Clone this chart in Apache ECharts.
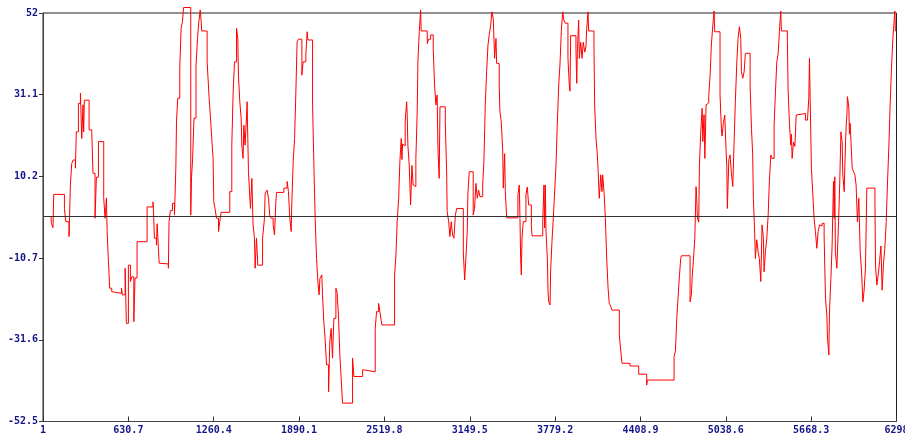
<!DOCTYPE html>
<html lang="en">
<head>
  <meta charset="UTF-8">
  <script src="https://cdn.jsdelivr.net/npm/echarts@6/dist/echarts.min.js"></script>
  <title>signal trace</title>
  <style>
    html, body { margin: 0; padding: 0; background: #fff; }
  </style>
</head>
<body>
<div id="chart" style="width: 905px; height: 436px;"></div>
<script type="text/javascript">
  // sample index where the value changes, and the value from there on
  const sampleIdx = [
    60, 63, 75, 80, 159, 169, 193, 203, 213, 223, 240, 247, 262, 277, 287, 296, 301, 306, 341, 361,
    370, 385, 395, 410, 449, 459, 469, 474, 484, 493, 508, 518, 580, 587, 607, 616, 631, 646, 656, 671,
    680, 695, 769, 813, 818, 823, 838, 843, 853, 858, 867, 926, 931, 941, 956, 971, 981, 986, 995, 1010,
    1020, 1030, 1038, 1091, 1097, 1105, 1115, 1130, 1141, 1151, 1161, 1168, 1172, 1212, 1226, 1237, 1246, 1256, 1261, 1270,
    1281, 1296, 1305, 1315, 1379, 1394, 1404, 1414, 1429, 1438, 1443, 1453, 1463, 1468, 1477, 1483, 1492, 1503, 1507, 1512,
    1517, 1527, 1532, 1542, 1551, 1561, 1566, 1576, 1586, 1621, 1635, 1640, 1654, 1665, 1674, 1684, 1699, 1709, 1719, 1724,
    1778, 1802, 1812, 1822, 1832, 1837, 1847, 1857, 1866, 1876, 1886, 1911, 1920, 1940, 1950, 1955, 1990, 1999, 2009, 2019,
    2029, 2038, 2044, 2058, 2063, 2073, 2082, 2093, 2108, 2117, 2127, 2137, 2147, 2162, 2171, 2181, 2191, 2201, 2211, 2285,
    2295, 2359, 2374, 2452, 2462, 2477, 2487, 2501, 2595, 2605, 2614, 2625, 2634, 2644, 2649, 2654, 2664, 2673, 2684, 2688,
    2693, 2703, 2713, 2723, 2732, 2742, 2752, 2762, 2767, 2777, 2787, 2791, 2836, 2846, 2861, 2880, 2890, 2900, 2909, 2915,
    2924, 2930, 2969, 2979, 2983, 2994, 3003, 3013, 3023, 3033, 3043, 3053, 3102, 3112, 3121, 3131, 3136, 3146, 3175, 3185,
    3195, 3205, 3215, 3225, 3245, 3254, 3264, 3274, 3284, 3293, 3304, 3313, 3323, 3333, 3343, 3348, 3367, 3372, 3382, 3393,
    3397, 3407, 3412, 3422, 3505, 3515, 3520, 3525, 3530, 3535, 3544, 3564, 3574, 3584, 3604, 3609, 3688, 3697, 3702, 3707,
    3712, 3722, 3727, 3732, 3742, 3746, 3756, 3766, 3776, 3786, 3795, 3806, 3815, 3825, 3835, 3845, 3854, 3874, 3884, 3889,
    3894, 3933, 3939, 3943, 3953, 3958, 3968, 3978, 3987, 3998, 4007, 4012, 4022, 4027, 4066, 4071, 4081, 4091, 4096, 4105,
    4116, 4125, 4130, 4140, 4150, 4160, 4170, 4179, 4190, 4199, 4253, 4263, 4273, 4332, 4396, 4455, 4460, 4657, 4667, 4677,
    4686, 4696, 4706, 4711, 4775, 4785, 4790, 4799, 4810, 4819, 4824, 4829, 4839, 4844, 4854, 4864, 4869, 4878, 4884, 4893,
    4903, 4913, 4923, 4932, 4943, 4952, 4957, 4996, 5006, 5011, 5021, 5031, 5041, 5046, 5050, 5061, 5070, 5080, 5090, 5100,
    5109, 5120, 5129, 5139, 5149, 5154, 5164, 5174, 5183, 5218, 5228, 5237, 5242, 5252, 5257, 5267, 5277, 5286, 5297, 5306,
    5316, 5321, 5331, 5341, 5351, 5360, 5371, 5380, 5395, 5405, 5415, 5425, 5434, 5444, 5449, 5493, 5498, 5508, 5518, 5523,
    5528, 5538, 5548, 5558, 5563, 5626, 5641, 5651, 5656, 5661, 5670, 5681, 5690, 5700, 5710, 5720, 5730, 5740, 5749, 5764,
    5774, 5784, 5789, 5799, 5803, 5814, 5823, 5833, 5838, 5843, 5847, 5858, 5868, 5877, 5888, 5897, 5902, 5912, 5922, 5927,
    5932, 5936, 5946, 5951, 5956, 5961, 5971, 5980, 5991, 6000, 6010, 6020, 6030, 6040, 6050, 6059, 6069, 6079, 6139, 6143,
    6153, 6163, 6173, 6183, 6192, 6202, 6212, 6222, 6231, 6242, 6251, 6261, 6271, 6281, 6286, 6290, 6298
  ];
  const signal = [
    0, -1.8, -2.9, 5.6, 2.0, -1.4, -5.2, 8.0, 13.5, 14.4, 12.3, 21.6, 28.9, 31.5, 19.9, 28.5, 21.6, 29.7, 22.1, 21.2,
    11.0, -0.5, 10, 19.1, 4.6, -0.5, 4.7, -3.9, -11.6, -18.4, -19.3, -19.7, -18.4, -20.1, -13.3, -27.4, -12.5, -16.7, -15.5, -27.0,
    -15.8, -6.5, 2.4, 3.7, -0.5, -5.6, -7.4, -1.9, -8.6, -12.0, -12.2, -13.3, -1.4, 1.5, 3.3, 0.3, 12.3, 24.2, 30.2, 37.9,
    48.1, 49.8, 53.4, 0.3, 10.1, 14.8, 25.1, 38.7, 45.5, 49.8, 52.8, 49.8, 47.4, 39.5, 30.6, 25.1, 19.9, 14.8, 3.7, 2.0,
    -0.5, -3.9, -1.4, 1.0, 6.3, 18.2, 31.9, 39.5, 48.1, 45.5, 36.1, 29.3, 25.1, 18.2, 14.8, 23.3, 18.2, 25.9, 29.3, 19.9,
    11.4, 4.6, 2.0, 9.7, -2.2, -5.6, -13.3, -5.6, -12.5, -5.6, -0.5, 5.9, 6.7, 4.6, 0.2, -0.5, -2.2, -4.8, 3.7, 6.1,
    7.2, 8.9, 6.3, -0.5, -3.9, 3.7, 14.0, 19.9, 31.0, 44.7, 45.3, 36.1, 39.5, 41.3, 47.2, 45.1, 28.5, 14.0, -0.5, -10.8,
    -16.7, -20.1, -15.9, -15.0, -20.0, -27.0, -31.2, -38.0, -44.9, -32.1, -28.7, -36.3, -26.1, -18.4, -19.5, -25.5, -35.5, -41.5, -47.8, -36.3,
    -41.0, -39.3, -39.8, -28.7, -24.4, -22.3, -24.6, -27.8, -15.0, -9.9, -1.4, 4.6, 14.0, 19.9, 14.5, 18.5, 18.0, 24.2, 29.3, 26.0,
    18.2, 13.1, 2.9, 13.0, 8.0, 7.6, 14.8, 26.8, 39.5, 47.2, 52.8, 47.4, 44.2, 45.3, 46.4, 43.0, 33.6, 28.5, 31.0, 17.4,
    9.7, 28.0, 24.2, 11.4, 1.2, -1.4, -5.2, -1.4, -4.8, -5.6, 0.2, 2.0, -9.1, -16.3, -10.8, -3.9, 5.9, 11.4, 0.3, 2.0,
    8.4, 4.6, 6.7, 5.0, 8.0, 14.0, 28.5, 37.0, 43.8, 46.4, 48.9, 52.3, 50.6, 40.4, 45.5, 39.1, 33.6, 26.8, 24.2, 16.5,
    7.2, 16.0, 6.3, -0.4, 5.5, 8.0, -0.5, -10.8, -15.0, -5.6, -1.4, 5.5, 7.5, 2.9, -2.2, -5.0, -1.4, 8.0, -3.0, 8.0,
    -3.9, -10.8, -19.3, -21.9, -22.7, -14.2, -6.5, -0.5, 6.3, 13.1, 23.3, 33.6, 38.7, 47.2, 52.3, 50.0, 49.4, 40.4, 33.6, 32.0,
    46.2, 43.0, 34.0, 42.0, 50.2, 40.4, 44.5, 40.4, 44.5, 42.0, 43.5, 47.7, 52.3, 47.4, 43.8, 28.5, 19.9, 15.7, 12.3, 4.6,
    10.6, 6.3, 10.6, 6.3, -0.5, -10.8, -18.4, -22.3, -23.0, -24.0, -30.4, -34.2, -37.6, -38.3, -40.4, -43.2, -41.9, -35.9, -34.5, -26.1,
    -21.0, -15.5, -10.8, -10.1, -21.9, -20.0, -15.9, -11.6, -5.6, 7.6, 4.6, -0.5, -1.5, 13.1, 21.6, 27.6, 19.1, 26.0, 14.8, 28.5,
    29.0, 31.0, 36.1, 43.8, 48.9, 52.5, 47.2, 31.0, 22.5, 20.5, 24.0, 25.9, 16.5, 13.0, 2.0, 14.5, 15.7, 11.0, 7.6, 19.1,
    29.3, 39.5, 45.5, 48.5, 45.5, 37.0, 35.3, 37.0, 41.7, 33.6, 22.5, 15.7, 4.6, -4.8, -10.8, -6.0, -9.1, -10.8, -16.7, -2.2,
    -5.6, -14.2, -9.1, -5.6, 0.2, 8.9, 15.7, 14.8, 23.3, 31.9, 39.5, 41.7, 47.2, 52.5, 47.4, 45.0, 32.7, 23.8, 18.2, 21.0,
    14.8, 19.0, 17.9, 25.9, 26.3, 24.6, 25.0, 30.2, 40.4, 30.0, 12.3, 5.4, -0.5, -3.9, -8.2, -3.9, -2.2, -2.5, -1.8, -5.0,
    -21.0, -25.3, -31.2, -35.5, -25.0, -15.9, -7.4, 8.9, -0.5, 10.1, -9.1, -13.3, -3.9, 5.5, 21.6, 19.0, 10.6, 6.3, 19.1, 23.0,
    25.9, 30.6, 28.0, 21.0, 23.8, 20.0, 12.3, 11.5, 10.6, 8.0, -1.4, 4.6, -9.1, -14.0, -21.9, -19.0, -13.3, 7.2, 3.7, -12.5,
    -17.6, -15.0, -11.6, -7.6, -18.9, -12.0, -8.2, -1.4, 8.0, 18.2, 28.5, 37.9, 45.5, 50.2, 52.5, 47.4, 47.4
  ];

  const xTicks = [1, 630.7, 1260.4, 1890.1, 2519.8, 3149.5, 3779.2, 4408.9, 5038.6, 5668.3, 6298];
  const yTicks = [-52.5, -31.6, -10.7, 10.2, 31.1, 52];

  function main() {
    let chart = echarts.init(document.getElementById('chart'), null, {renderer: 'canvas'});
    let points = sampleIdx.map(function (x, i) { return [x, signal[i]]; });
    let labelStyle = {
      color: '#14148a',
      fontFamily: 'DejaVu Sans Mono',
      fontWeight: 'bold',
      fontSize: 10
    };

    chart.setOption({
      animation: false,
      backgroundColor: '#fff',
      grid: {
        left: 43, right: 8.5, top: 13, bottom: 14.5,
        outerBoundsMode: 'none',   // keep the plot box fixed, let "6298" run off the edge
        show: true,
        borderColor: '#222',
        borderWidth: 1
      },
      xAxis: {
        type: 'value',
        min: xTicks[0],
        max: xTicks[xTicks.length - 1],
        axisLine: {show: true, onZero: false, lineStyle: {color: '#444', width: 1}},
        axisTick: {show: true, inside: true, length: 5, customValues: xTicks, lineStyle: {color: '#333'}},
        axisLabel: Object.assign({margin: 4, customValues: xTicks, hideOverlap: false,
          formatter: function (v) { return String(+v.toFixed(1)); }}, labelStyle),
        splitLine: {show: false}
      },
      yAxis: {
        type: 'value',
        min: yTicks[0],
        max: yTicks[yTicks.length - 1],
        axisLine: {show: true, onZero: false, lineStyle: {color: '#444', width: 1}},
        axisTick: {show: true, length: 4, customValues: yTicks, lineStyle: {color: '#333'}},
        axisLabel: Object.assign({margin: 5, customValues: yTicks,
          formatter: function (v) { return String(+v.toFixed(1)); }}, labelStyle),
        splitLine: {show: false}
      },
      series: [
        {
          type: 'line',
          data: points,
          step: 'end',
          showSymbol: false,
          clip: false,
          lineStyle: {color: '#ff0000', width: 1},
          markLine: {
            silent: true,
            symbol: 'none',
            label: {show: false},
            lineStyle: {color: '#333', type: 'solid', width: 1.2},
            data: [{yAxis: 0}]
          }
        }
      ]
    });
  }

  main();
</script>
</body>
</html>
